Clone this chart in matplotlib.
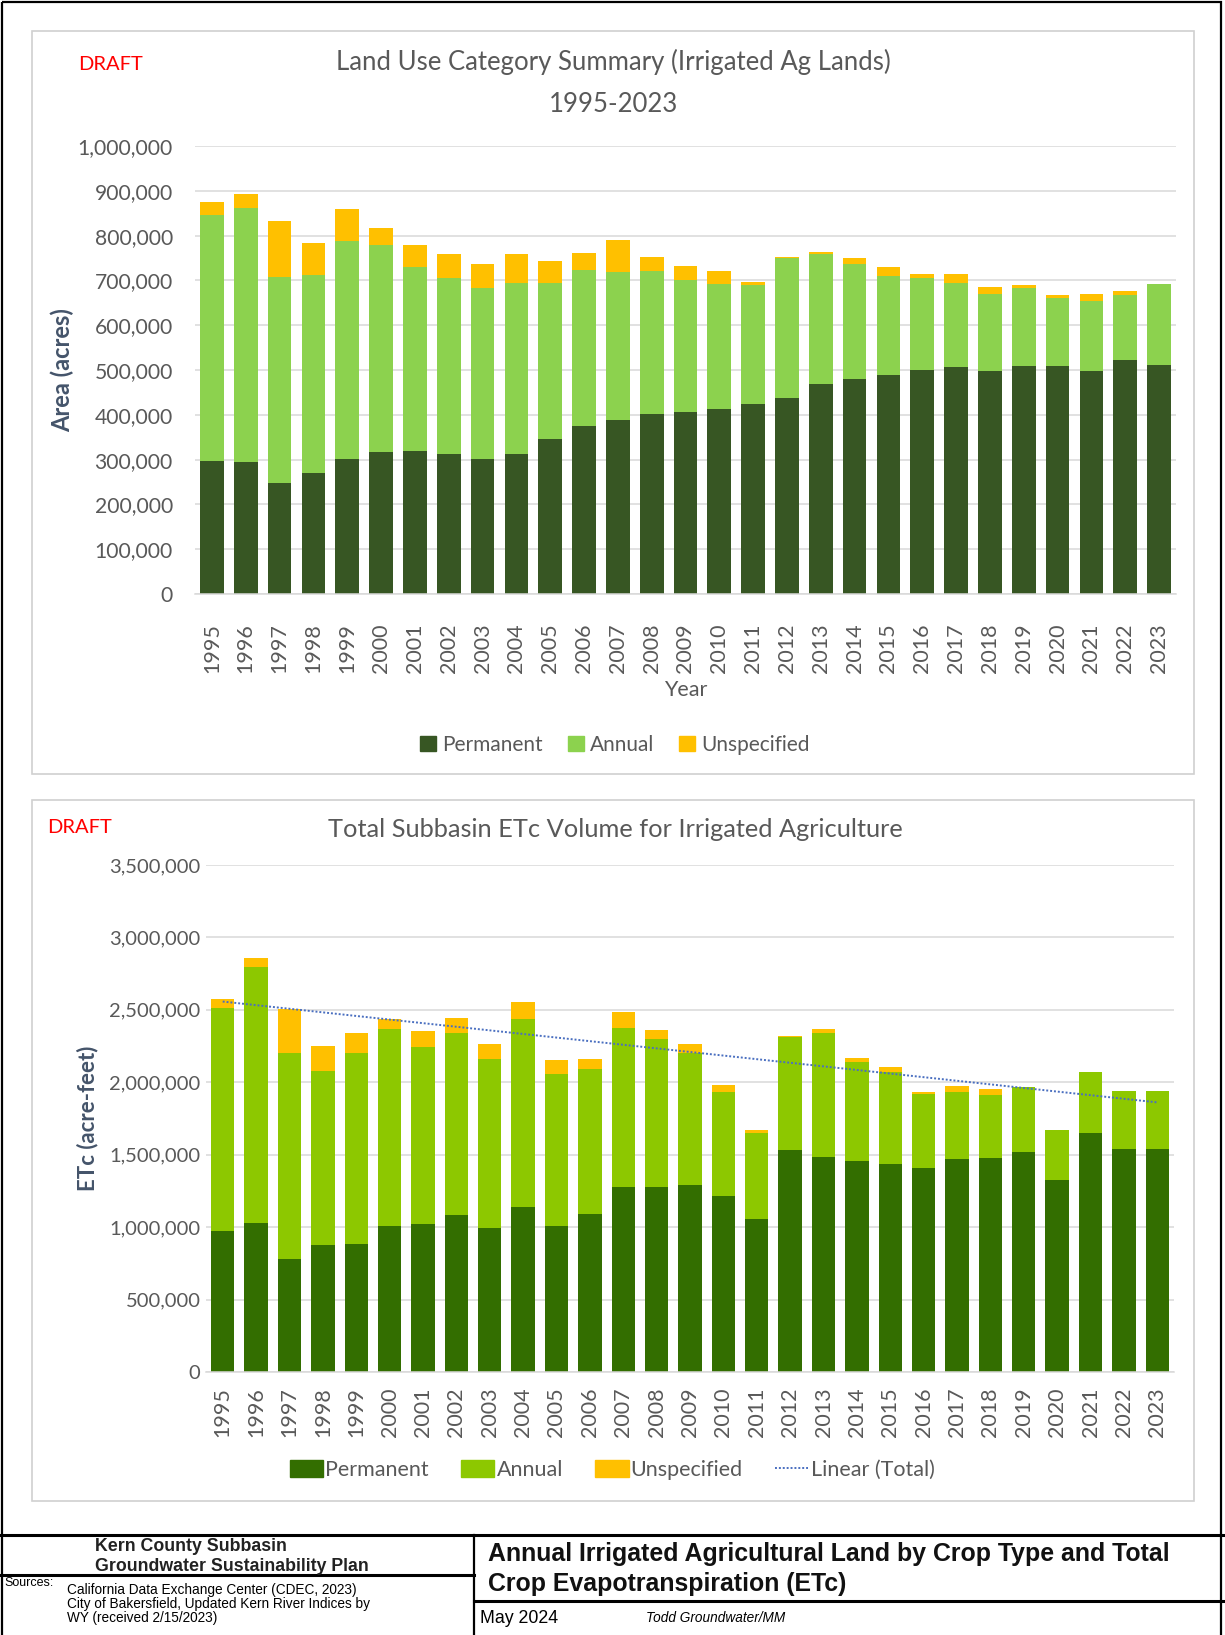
import numpy as np
import matplotlib
matplotlib.use("Agg")
import matplotlib.pyplot as plt
from matplotlib.patches import Rectangle, Patch
from matplotlib.lines import Line2D
from matplotlib.ticker import FuncFormatter, MultipleLocator

# ---------------------------------------------------------------- data
years = [str(y) for y in range(1995, 2024)]

# Irrigated ag land area (acres)
land_permanent = [296000, 294000, 248000, 271000, 301000, 317000, 320000, 312000, 301000, 312000,
                  345000, 376000, 388000, 402000, 406000, 412000, 423000, 438000, 469000, 481000,
                  488000, 500000, 507000, 497000, 509000, 509000, 497000, 522000, 512000]
land_annual = [550000, 567000, 460000, 442000, 487000, 463000, 410000, 394000, 383000, 382000,
               349000, 347000, 331000, 318000, 294000, 279000, 267000, 313000, 289000, 255000,
               222000, 206000, 188000, 172000, 174000, 152000, 158000, 146000, 181000]
land_unspecified = [30000, 32000, 125000, 70000, 71000, 36000, 49000, 52000, 52000, 64000,
                    49000, 39000, 72000, 32000, 32000, 30000, 7000, 2000, 6000, 13000,
                    19000, 9000, 19000, 17000, 7000, 6000, 15000, 8000, 0]

# Crop evapotranspiration volume (acre-feet)
etc_permanent = [972000, 1029000, 781000, 875000, 884000, 1006000, 1024000, 1082000, 995000, 1137000,
                 1011000, 1091000, 1277000, 1277000, 1289000, 1217000, 1057000, 1534000, 1484000, 1459000,
                 1438000, 1408000, 1470000, 1477000, 1518000, 1328000, 1649000, 1539000, 1539000]
etc_annual = [1539000, 1769000, 1420000, 1206000, 1321000, 1362000, 1223000, 1261000, 1167000, 1298000,
              1047000, 999000, 1100000, 1020000, 912000, 719000, 592000, 781000, 859000, 684000,
              636000, 512000, 462000, 436000, 448000, 344000, 421000, 404000, 404000]
etc_unspecified = [64000, 57000, 305000, 170000, 133000, 67000, 110000, 99000, 101000, 117000,
                   97000, 69000, 106000, 64000, 64000, 46000, 23000, 4000, 23000, 23000,
                   30000, 16000, 43000, 42000, 4000, 0, 0, 0, 0]

trend_equation = "y = -24,720x + 3E+06"
trend_r2 = "R$^2$ = 0.4783"

# ---------------------------------------------------------------- styling
W, H = 1225, 1635
FONT = ["Lato", "DejaVu Sans"]
plt.rcParams["font.family"] = FONT
GRAY_TXT = "#595959"
GRID = "#D9D9D9"

fig = plt.figure(figsize=(W / 100, H / 100), dpi=100)
fig.patch.set_facecolor("white")

# full-page overlay in pixel coordinates for frames, titles and title block
bg = fig.add_axes([0, 0, 1, 1], zorder=0)
bg.set_xlim(0, W)
bg.set_ylim(H, 0)
bg.axis("off")


def rect(x0, y0, x1, y1):
    return [x0 / W, 1 - y1 / H, (x1 - x0) / W, (y1 - y0) / H]


def thousands(v, _):
    return f"{int(round(v)):,}"


def style_axes(ax, ymax, ystep, ypad, xpad, ysize, xsize):
    ax.set_facecolor("white")
    ax.set_xlim(-0.5, len(years) - 0.5)
    ax.set_ylim(0, ymax)
    ax.yaxis.set_major_locator(MultipleLocator(ystep))
    ax.yaxis.set_major_formatter(FuncFormatter(thousands))
    ax.grid(axis="y", color=GRID, linewidth=1.1, zorder=0)
    ax.set_axisbelow(True)
    for s in ["top", "right", "left"]:
        ax.spines[s].set_visible(False)
    ax.spines["bottom"].set_color(GRID)
    ax.spines["bottom"].set_linewidth(1.1)
    ax.tick_params(axis="y", length=0, pad=ypad, labelsize=ysize, labelcolor=GRAY_TXT)
    ax.tick_params(axis="x", length=0, pad=xpad, labelsize=xsize, labelcolor=GRAY_TXT)
    ax.set_xticks(range(len(years)))
    ax.set_xticklabels(years, rotation=90, va="top", ha="center")


# ---------------------------------------------------------------- page frame + panels
bg.add_patch(Rectangle((1.5, 1.5), W - 6, H, fill=False, edgecolor="black", linewidth=1.6))
bg.add_patch(Rectangle((32, 31), 1162, 743, fill=False, edgecolor="#D0D0D0", linewidth=1.2))
bg.add_patch(Rectangle((32, 800), 1162, 701, fill=False, edgecolor="#D0D0D0", linewidth=1.2))

# ---------------------------------------------------------------- top chart: land use
c_perm1, c_ann1, c_uns1 = "#375623", "#8CD24E", "#FFC000"
ax1 = fig.add_axes(rect(195, 146, 1176, 594), zorder=2)
x = np.arange(len(years))
bw = 0.70
p = np.array(land_permanent)
a = np.array(land_annual)
u = np.array(land_unspecified)
ax1.bar(x, p, bw, color=c_perm1, zorder=2, label="Permanent")
ax1.bar(x, a, bw, bottom=p, color=c_ann1, zorder=2, label="Annual")
ax1.bar(x, u, bw, bottom=p + a, color=c_uns1, zorder=2, label="Unspecified")
style_axes(ax1, 1_000_000, 100_000, 16, 21, 15.2, 15.5)

bg.text(78, 64, "DRAFT", color="#FF0000", fontsize=14.5, va="center", ha="left")
bg.text(613, 62, "Land Use Category Summary (Irrigated Ag Lands)", color=GRAY_TXT,
        fontsize=18.5, va="center", ha="center")
bg.text(613, 104, "1995-2023", color=GRAY_TXT, fontsize=18.5, va="center", ha="center")
bg.text(686, 690, "Year", color=GRAY_TXT, fontsize=15.5, va="center", ha="center")
bg.text(62, 370, "Area (acres)", color="#44546A", fontsize=17, fontweight="bold",
        rotation=90, va="center", ha="center")

h1 = [Patch(color=c_perm1), Patch(color=c_ann1), Patch(color=c_uns1)]
fig.legend(h1, ["Permanent", "Annual", "Unspecified"], loc="center",
           bbox_to_anchor=(615 / W, 1 - 745 / H), ncol=3, frameon=False,
           fontsize=15, labelcolor=GRAY_TXT, handlelength=0.75, handleheight=0.75,
           handletextpad=0.3, columnspacing=1.2)

# ---------------------------------------------------------------- bottom chart: ETc volume
c_perm2, c_ann2, c_uns2 = "#336E00", "#8DC800", "#FFC000"
ax2 = fig.add_axes(rect(206, 865, 1174, 1372), zorder=2)
p2 = np.array(etc_permanent)
a2 = np.array(etc_annual)
u2 = np.array(etc_unspecified)
ax2.bar(x, p2, bw, color=c_perm2, zorder=2)
ax2.bar(x, a2, bw, bottom=p2, color=c_ann2, zorder=2)
ax2.bar(x, u2, bw, bottom=p2 + a2, color=c_uns2, zorder=2)
style_axes(ax2, 3_500_000, 500_000, 4, 11, 14.5, 15.5)

# least-squares trend of the total volume
total2 = p2 + a2 + u2
coef = np.polyfit(x + 1, total2, 1)
trend = np.polyval(coef, x + 1)
ax2.plot(x, trend, color="#4A6FC0", linestyle=(0, (1, 1)), linewidth=1.4, zorder=3)

bg.text(47, 827, "DRAFT", color="#FF0000", fontsize=14.5, va="center", ha="left")
bg.text(615, 829, "Total Subbasin ETc Volume for Irrigated Agriculture", color=GRAY_TXT,
        fontsize=18.3, va="center", ha="center")
bg.text(886, 951, trend_equation, color=GRAY_TXT, fontsize=15, va="center", ha="center")
bg.text(886, 980, trend_r2, color=GRAY_TXT, fontsize=15, va="center", ha="center")
bg.text(88, 1118, "ETc (acre-feet)", color="#44546A", fontsize=16, fontweight="bold",
        rotation=90, va="center", ha="center")

h2 = [Patch(color=c_perm2), Patch(color=c_ann2), Patch(color=c_uns2),
      Line2D([], [], color="#4A6FC0", linestyle=(0, (1, 1)), linewidth=1.4)]
fig.legend(h2, ["Permanent", "Annual", "Unspecified", "Linear (Total)"], loc="center",
           bbox_to_anchor=(612 / W, 1 - 1470 / H), ncol=4, frameon=False,
           fontsize=15.5, labelcolor=GRAY_TXT, handlelength=1.55, handleheight=0.8,
           handletextpad=0.1, columnspacing=1.5)

# ---------------------------------------------------------------- title block
LW = 2.2
bg.plot([0, W], [1535, 1535], color="black", linewidth=LW)
bg.plot([474, 474], [1535, H], color="black", linewidth=1.6)
bg.plot([0, 474], [1575, 1575], color="black", linewidth=LW)
bg.plot([474, W], [1601, 1601], color="black", linewidth=LW)

ARIAL = ["Liberation Sans", "DejaVu Sans"]
NARROW = ["Liberation Sans Narrow", "Liberation Sans", "DejaVu Sans"]
bg.text(95, 1546, "Kern County Subbasin", family=ARIAL, fontweight="bold",
        fontsize=12.8, ha="left", va="center", color="#222222")
bg.text(95, 1566, "Groundwater Sustainability Plan", family=ARIAL, fontweight="bold",
        fontsize=12.8, ha="left", va="center", color="#222222")
bg.text(4, 1583, "Sources:", family=NARROW, fontsize=9, ha="left", va="center")
for yy, line in zip([1590, 1604, 1618],
                    ["California Data Exchange Center (CDEC, 2023)",
                     "City of Bakersfield, Updated Kern River Indices by",
                     "WY (received 2/15/2023)"]):
    bg.text(67, yy, line, family=NARROW, fontsize=9.8, ha="left", va="center")

bg.text(488, 1554, "Annual Irrigated Agricultural Land by Crop Type and Total", family=ARIAL,
        fontweight="bold", fontsize=17.9, ha="left", va="center", color="#111111")
bg.text(488, 1584, "Crop Evapotranspiration (ETc)", family=ARIAL,
        fontweight="bold", fontsize=17.9, ha="left", va="center", color="#111111")
bg.text(480, 1618, "May 2024", family=ARIAL, fontsize=12.8, ha="left", va="center")
bg.text(646, 1618, "Todd Groundwater/MM", family=NARROW, fontstyle="italic",
        fontsize=9.8, ha="left", va="center")

fig.savefig("out.png", dpi=100, facecolor="white")
